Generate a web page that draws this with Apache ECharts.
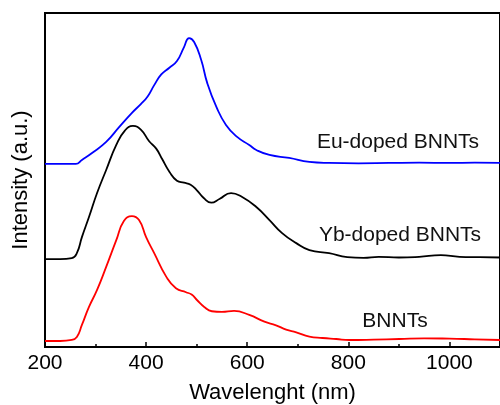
<!DOCTYPE html>
<html><head><meta charset="utf-8">
<script src="https://cdn.jsdelivr.net/npm/echarts@6/dist/echarts.min.js"></script>
<style>html,body{margin:0;padding:0;background:#fff}#c{width:500px;height:405px}</style>
</head><body><div id="c"></div>
<script>
// Wavelength (nm) and displayed (offset) intensity
const bnntsWl = [200,230,253,263,273,287,303,321,341,356,372,386,400,416,440,459,479,490,501,515,530,550,574,604,634,657,677,697,723,749,776,802,850,901,950,1000,1050,1100];
const bnntsI  = [1.8,1.8,2.1,3.0,6.6,12.0,17.1,24.0,32.0,37.7,39.2,38.0,32.9,28.1,21.0,17.6,16.4,15.7,14.0,12.0,10.7,10.5,10.8,9.6,7.6,6.5,5.2,4.4,3.1,2.7,2.4,2.1,2.2,2.4,2.6,2.5,2.3,2.1];

const ybWl = [200,230,253,263,273,287,303,321,341,358,374,390,406,420,432,446,461,475,488,500,514,529,545,568,590,618,644,669,697,723,762,798,830,860,900,940,983,1020,1060,1100];
const ybI  = [26.3,26.3,26.6,28.1,32.9,38.9,46.1,53.0,60.5,64.8,66.2,65.0,61.6,59.4,56.2,52.5,49.8,49.2,48.6,47.0,44.6,43.2,44.3,46.1,44.9,41.9,38.0,34.1,31.1,29.0,28.1,26.9,26.7,27.0,26.8,27.0,27.5,27.0,26.9,26.8];

const euWl = [200,230,261,273,293,321,347,372,390,403,416,430,446,461,475,485,495,509,521,539,558,580,604,618,644,683,723,762,820,880,940,1000,1050,1100];
const euI  = [54.8,54.8,54.8,56.0,58.1,61.4,65.9,70.1,72.8,75.0,78.4,81.6,83.6,85.6,89.8,92.5,91.3,85.9,79.0,71.9,66.5,62.9,60.5,59.0,57.5,56.6,55.4,55.1,55.0,55.1,55.2,55.1,55.2,55.1];

const seriesNames = ['BNNTs','Yb-doped BNNTs','Eu-doped BNNTs'];
const xTicks = [200,400,600,800,1000];

const zip = (a,b)=>a.map((v,i)=>[v,b[i]]);
const chart = echarts.init(document.getElementById('c'), null, {renderer:'canvas'});
const font = 'Liberation Sans, Arial, Helvetica, sans-serif';
chart.setOption({
  animation:false,
  grid:{left:45,right:0,top:13,bottom:58,containLabel:false,outerBoundsMode:'none',
    show:true,borderColor:'#000',borderWidth:2,backgroundColor:'transparent'},
  xAxis:{type:'value',min:200,max:1100,interval:200,
    axisLine:{show:true,lineStyle:{color:'#000',width:2}},
    axisTick:{show:true,inside:true,length:5,lineStyle:{color:'#000',width:1.5}},
    minorTick:{show:true,splitNumber:2,length:3,lineStyle:{color:'#000',width:1.5}},
    splitLine:{show:false},
    axisLabel:{color:'#000',fontSize:21,fontFamily:font,margin:6,
      formatter:v=>xTicks.includes(v)?String(v):''},
    name:'Wavelenght (nm)',nameLocation:'middle',nameGap:35,
    nameTextStyle:{color:'#000',fontSize:22,fontFamily:font}
  },
  yAxis:{type:'value',min:0,max:100,
    axisLine:{show:true,lineStyle:{color:'#000',width:2}},
    axisTick:{show:false},axisLabel:{show:false},splitLine:{show:false},
    name:'Intensity (a.u.)',nameLocation:'middle',nameGap:13,
    nameTextStyle:{color:'#000',fontSize:22,fontFamily:font}
  },
  series:[
    {name:seriesNames[0],type:'line',data:zip(bnntsWl,bnntsI),smooth:0.5,showSymbol:false,lineStyle:{color:'#ff0000',width:1.8}},
    {name:seriesNames[1],type:'line',data:zip(ybWl,ybI),smooth:0.5,showSymbol:false,lineStyle:{color:'#000000',width:1.8}},
    {name:seriesNames[2],type:'line',data:zip(euWl,euI),smooth:0.5,showSymbol:false,lineStyle:{color:'#0000ff',width:1.8}}
  ],
  graphic:[
    {type:'text',x:398,y:142,style:{text:seriesNames[2],font:'21px '+font,fill:'#111',textAlign:'center',textVerticalAlign:'middle'}},
    {type:'text',x:400,y:235,style:{text:seriesNames[1],font:'21px '+font,fill:'#111',textAlign:'center',textVerticalAlign:'middle'}},
    {type:'text',x:395,y:321,style:{text:seriesNames[0],font:'21px '+font,fill:'#111',textAlign:'center',textVerticalAlign:'middle'}}
  ]
});
</script></body></html>
